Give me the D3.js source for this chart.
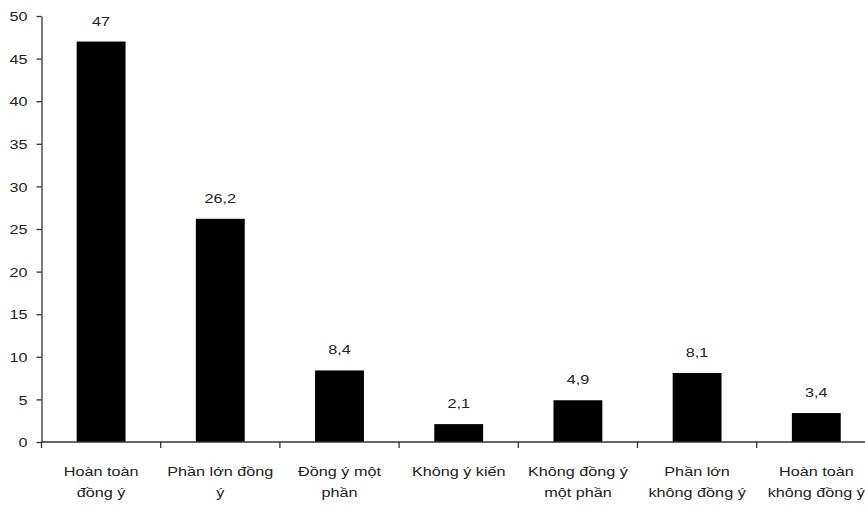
<!DOCTYPE html>
<html><head><meta charset="utf-8">
<script src="https://cdn.jsdelivr.net/npm/d3@7"></script>
<style>body{margin:0;background:#fff}svg{display:block}</style>
</head><body>
<svg id="c" width="865" height="506"></svg>
<script>
const categories = [
  ["Hoàn toàn","đồng ý"],
  ["Phần lớn đồng","ý"],
  ["Đồng ý một","phần"],
  ["Không ý kiến"],
  ["Không đồng ý","một phần"],
  ["Phần lớn","không đồng ý"],
  ["Hoàn toàn","không đồng ý"]
];
const values = [47, 26.2, 8.4, 2.1, 4.9, 8.1, 3.4];
const valueLabels = ["47","26,2","8,4","2,1","4,9","8,1","3,4"];
const yTicks = [0,5,10,15,20,25,30,35,40,45,50];

const svg = d3.select("#c");
const FONT = "'Liberation Sans', Arial, sans-serif";
const FS = 13.5, SX = 1.2, TXT = "#222", AX = "#333";
const x0 = 41.5, y0 = 442;
const ids = categories.map((d,i)=>i);
const x = d3.scaleBand().domain(ids).range([x0, x0 + 7*119.2]).paddingInner(0.59).paddingOuter(0.295);
const y = d3.scaleLinear().domain([0,50]).range([y0, 16]);

// bars
svg.append("g").selectAll("rect").data(values).join("rect")
  .attr("x",(d,i)=>x(i)).attr("width",x.bandwidth())
  .attr("y",d=>y(d)).attr("height",d=>y0-y(d)).attr("fill","#000");

// value labels
svg.append("g").selectAll("text").data(values).join("text")
  .attr("transform",(d,i)=>`translate(${x(i)+x.bandwidth()/2},${y(d)-16}) scale(${SX},1)`)
  .attr("text-anchor","middle").attr("font-family",FONT).attr("font-size",FS).attr("fill",TXT)
  .text((d,i)=>valueLabels[i]);

// y axis
const ya = svg.append("g").attr("transform",`translate(${x0},0)`)
  .call(d3.axisLeft(y).tickValues(yTicks).tickSize(5).tickSizeOuter(0).tickFormat(d3.format("d")));
ya.select(".domain").attr("stroke",AX).attr("stroke-width",1.3);
ya.selectAll(".tick line").attr("stroke",AX).attr("stroke-width",1.3);
ya.selectAll(".tick text").attr("x",null).attr("dy","0.35em")
  .attr("transform",`translate(-14,0) scale(${SX},1)`)
  .attr("font-family",FONT).attr("font-size",FS).attr("fill",TXT);

// x axis line
svg.append("line").attr("x1",x0).attr("x2",865).attr("y1",y0).attr("y2",y0)
  .attr("stroke",AX).attr("stroke-width",1.3);
// x ticks at band boundaries
const bounds = d3.range(0,8).map(i=>x0 + i*x.step());
svg.append("g").selectAll("line").data(bounds).join("line")
  .attr("x1",d=>d).attr("x2",d=>d).attr("y1",y0).attr("y2",y0+6)
  .attr("stroke",AX).attr("stroke-width",1.3);

// category labels
const cl = svg.append("g").selectAll("g").data(categories).join("g")
  .attr("transform",(d,i)=>`translate(${x(i)+x.bandwidth()/2},0)`);
cl.selectAll("text").data(d=>d).join("text")
  .attr("transform",(d,j)=>`translate(0,${476 + j*21}) scale(${SX},1)`)
  .attr("text-anchor","middle").attr("font-family",FONT).attr("font-size",FS).attr("fill",TXT)
  .text(d=>d);
</script>
</body></html>
